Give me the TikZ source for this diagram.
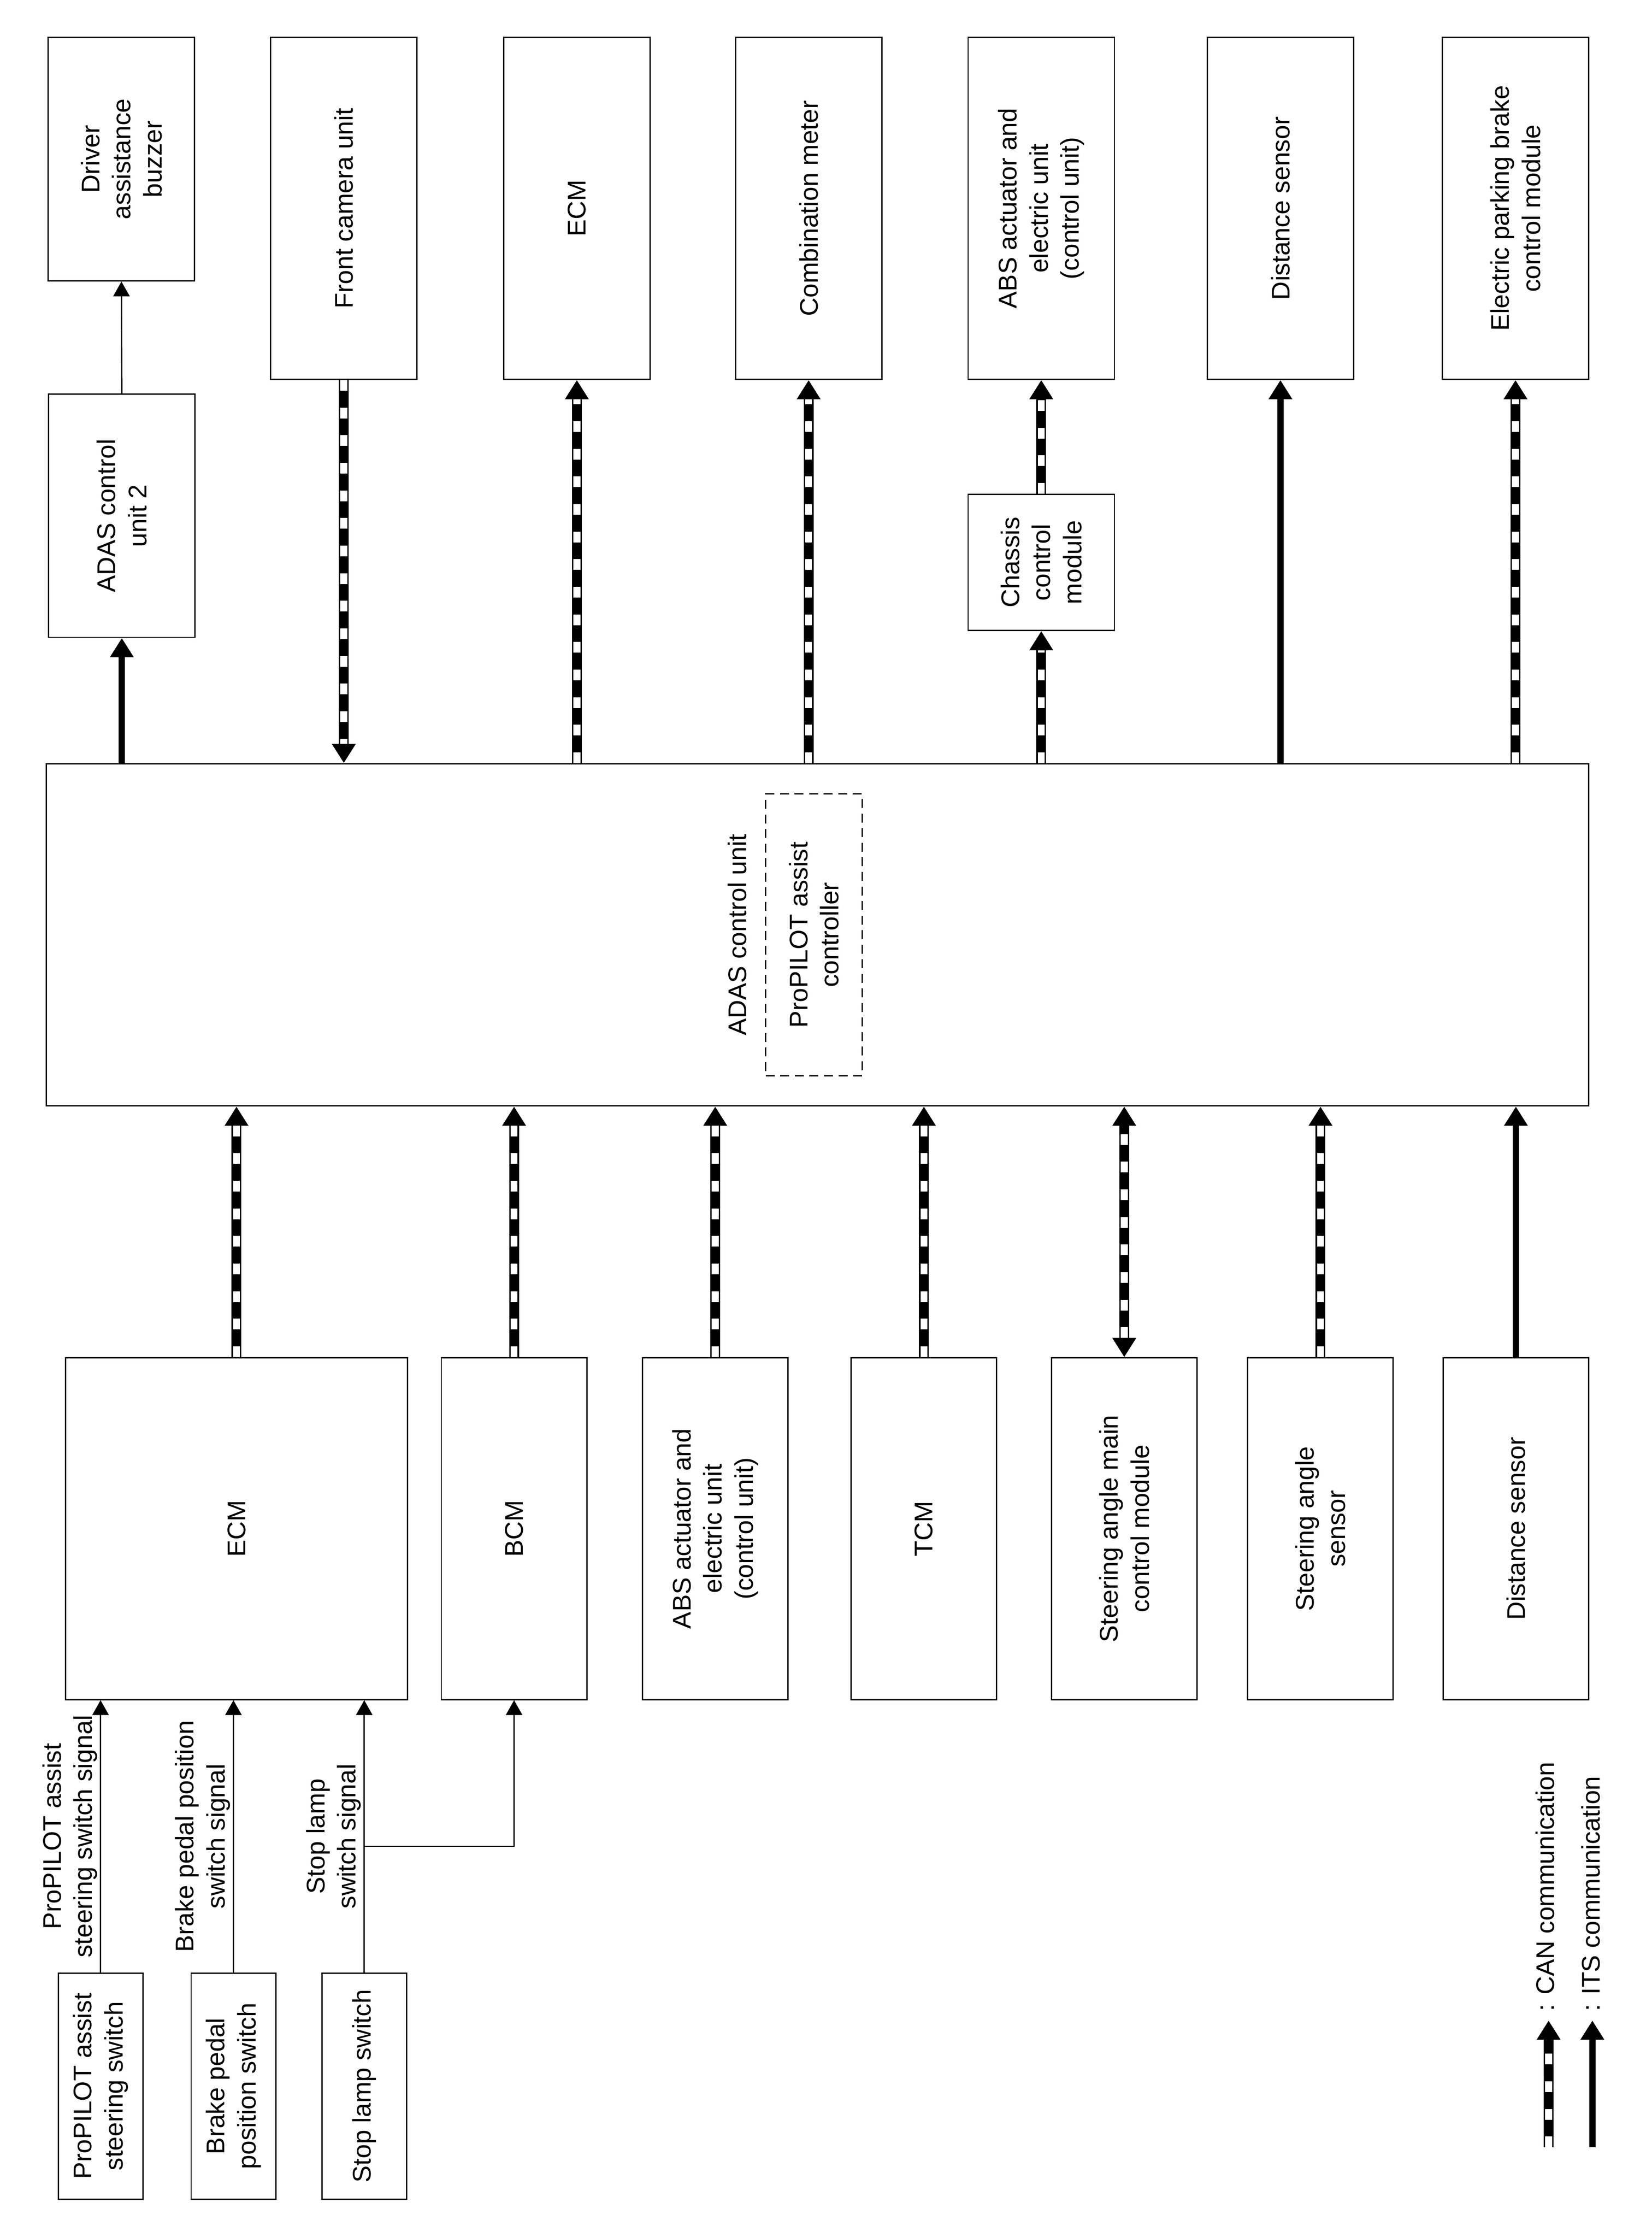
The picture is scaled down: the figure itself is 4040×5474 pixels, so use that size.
\documentclass[tikz,border=0pt]{standalone}
\usepackage{fontspec}
\setmainfont{Liberation Sans}
\usetikzlibrary{arrows.meta}

\tikzset{
  bustip/.tip={Triangle[length=7.5pt,width=8.8pt]},
  sigtip/.tip={Triangle[length=5.8pt,width=6.4pt]},
  ecubox/.style={draw, line width=0.5pt, inner sep=0pt},
  boxtext/.style={rotate=90, align=center, inner sep=1pt, font=\fontsize{10}{12.2}\selectfont},
  sigtext/.style={rotate=90, anchor=south, align=center, inner sep=1pt, font=\fontsize{10}{12.2}\selectfont},
  legtext/.style={rotate=90, anchor=base west, inner sep=0pt, font=\fontsize{10}{12.2}\selectfont},
  cancore/.style={draw=white, line width=2.7pt, dash pattern=on 4.2pt off 6.6pt, -},
  can/.style={line width=3.85pt, -bustip, postaction={cancore, shorten >=7.5pt}},
  canboth/.style={line width=3.85pt, bustip-bustip, postaction={cancore, shorten >=7.5pt, shorten <=7.5pt}},
  its/.style={line width=2.5pt, -bustip},
  sig/.style={line width=0.5pt, -sigtip},
}

\begin{document}
\begin{tikzpicture}[x=0.16pt,y=-0.16pt]
\useasboundingbox (0,0) rectangle (4040,5474);

%Shape: Rectangle (top row)
\node[ecubox, minimum width=57.28pt, minimum height=95.36pt] (buzzer) at (297,389) {};
\node[ecubox, minimum width=57.28pt, minimum height=133.92pt] (frontcam) at (841,509.5) {};
\node[ecubox, minimum width=57.28pt, minimum height=133.92pt] (ecmtop) at (1411,509.5) {};
\node[ecubox, minimum width=57.28pt, minimum height=133.92pt] (meter) at (1978,509.5) {};
\node[ecubox, minimum width=57.28pt, minimum height=133.92pt] (abstop) at (2547,509.5) {};
\node[ecubox, minimum width=57.28pt, minimum height=133.92pt] (disttop) at (3132,509.5) {};
\node[ecubox, minimum width=57.28pt, minimum height=133.92pt] (epb) at (3707,509.5) {};
%Shape: Rectangle (second row)
\node[ecubox, minimum width=57.28pt, minimum height=95.2pt] (adas2) at (298,1261.5) {};
\node[ecubox, minimum width=57.28pt, minimum height=53.28pt] (chassis) at (2547,1375.5) {};
%Shape: Rectangle (ADAS control unit)
\node[ecubox, minimum width=603.68pt, minimum height=133.92pt] (adas) at (1999.5,2286.5) {};
\node[ecubox, dash pattern=on 3.5pt off 2.2pt, minimum width=37.76pt, minimum height=110.24pt] (ppctl) at (1991,2286.5) {};
%Shape: Rectangle (bottom row)
\node[ecubox, minimum width=133.92pt, minimum height=133.76pt] (ecm) at (578.5,3739) {};
\node[ecubox, minimum width=56.96pt, minimum height=133.76pt] (bcm) at (1257.5,3739) {};
\node[ecubox, minimum width=56.96pt, minimum height=133.76pt] (absbot) at (1749.5,3739) {};
\node[ecubox, minimum width=56.96pt, minimum height=133.76pt] (tcm) at (2260,3739) {};
\node[ecubox, minimum width=56.96pt, minimum height=133.76pt] (steermain) at (2750,3739) {};
\node[ecubox, minimum width=56.96pt, minimum height=133.76pt] (steersens) at (3230,3739) {};
\node[ecubox, minimum width=56.96pt, minimum height=133.76pt] (distbot) at (3708,3739) {};
%Shape: Rectangle (switches)
\node[ecubox, minimum width=33.12pt, minimum height=88.48pt] (ppsw) at (246,5102.5) {};
\node[ecubox, minimum width=33.12pt, minimum height=88.48pt] (bpsw) at (571,5102.5) {};
\node[ecubox, minimum width=33.12pt, minimum height=88.48pt] (slsw) at (891,5102.5) {};

% Text Node
\node[boxtext] (buzzertxt) at (buzzer) {Driver\\assistance\\buzzer};
\node[boxtext] (frontcamtxt) at (frontcam) {Front camera unit};
\node[boxtext] (ecmtoptxt) at (ecmtop) {ECM};
\node[boxtext] (metertxt) at (meter) {Combination meter};
\node[boxtext] (abstoptxt) at (abstop) {ABS actuator and\\electric unit\\(control unit)};
\node[boxtext] (disttoptxt) at (disttop) {Distance sensor};
\node[boxtext] (epbtxt) at (epb) {Electric parking brake\\control module};
\node[boxtext] (adas2txt) at (adas2) {ADAS control\\unit 2};
\node[boxtext] (chassistxt) at (chassis) {Chassis\\control\\module};
\node[boxtext] (adastxt) at (1803,2286.5) {ADAS control unit};
\node[boxtext] (ppctltxt) at (ppctl) {ProPILOT assist\\controller};
\node[boxtext] (ecmtxt) at (ecm) {ECM};
\node[boxtext] (bcmtxt) at (bcm) {BCM};
\node[boxtext] (absbottxt) at (absbot) {ABS actuator and\\electric unit\\(control unit)};
\node[boxtext] (tcmtxt) at (tcm) {TCM};
\node[boxtext] (steermaintxt) at (steermain) {Steering angle main\\control module};
\node[boxtext] (steersenstxt) at (steersens) {Steering angle\\sensor};
\node[boxtext] (distbottxt) at (distbot) {Distance sensor};
\node[boxtext] (ppswtxt) at (ppsw) {ProPILOT assist\\steering switch};
\node[boxtext] (bpswtxt) at (bpsw) {Brake pedal\\position switch};
\node[boxtext] (slswtxt) at (slsw) {Stop lamp switch};

%Straight Lines (top row)
\draw[sig] (adas2.north) -- (buzzer.south);
\draw[its] (adas.north -| adas2) -- (adas2.south);
\draw[can] (frontcam.south) -- (adas.north -| frontcam);
\draw[can] (adas.north -| ecmtop) -- (ecmtop.south);
\draw[can] (adas.north -| meter) -- (meter.south);
\draw[can] (adas.north -| chassis) -- (chassis.south);
\draw[can] (chassis.north) -- (abstop.south);
\draw[its] (adas.north -| disttop) -- (disttop.south);
\draw[can] (adas.north -| epb) -- (epb.south);

%Straight Lines (bottom row)
\draw[can] (ecm.north) -- (adas.south -| ecm);
\draw[can] (bcm.north) -- (adas.south -| bcm);
\draw[can] (absbot.north) -- (adas.south -| absbot);
\draw[can] (tcm.north) -- (adas.south -| tcm);
\draw[canboth] (steermain.north) -- (adas.south -| steermain);
\draw[can] (steersens.north) -- (adas.south -| steersens);
\draw[its] (distbot.north) -- (adas.south -| distbot);

%Straight Lines (switch signals)
\draw[sig] (ppsw.north) -- node[sigtext] (ppsig) {ProPILOT assist\\steering switch signal} (ppsw.north |- ecm.south);
\draw[sig] (bpsw.north) -- node[sigtext] (bpsig) {Brake pedal position\\switch signal} (bpsw.north |- ecm.south);
\draw[sig] (slsw.north) -- node[sigtext] (slsig) {Stop lamp\\switch signal} (slsw.north |- ecm.south);
\coordinate (slbranch) at (891,4516);
\draw[sig] (slbranch) -| (bcm.south);

% Legend
\coordinate (cantail) at (3788,5252);
\coordinate (canhead) at (3788,4942);
\draw[can] (cantail) -- (canhead);
\node[legtext] (canlbl) at (3802,4921) {: CAN communication};
\coordinate (itstail) at (3895,5252);
\coordinate (itshead) at (3895,4942);
\draw[its] (itstail) -- (itshead);
\node[legtext] (itslbl) at (3913,4921) {: ITS communication};

\end{tikzpicture}
\end{document}
